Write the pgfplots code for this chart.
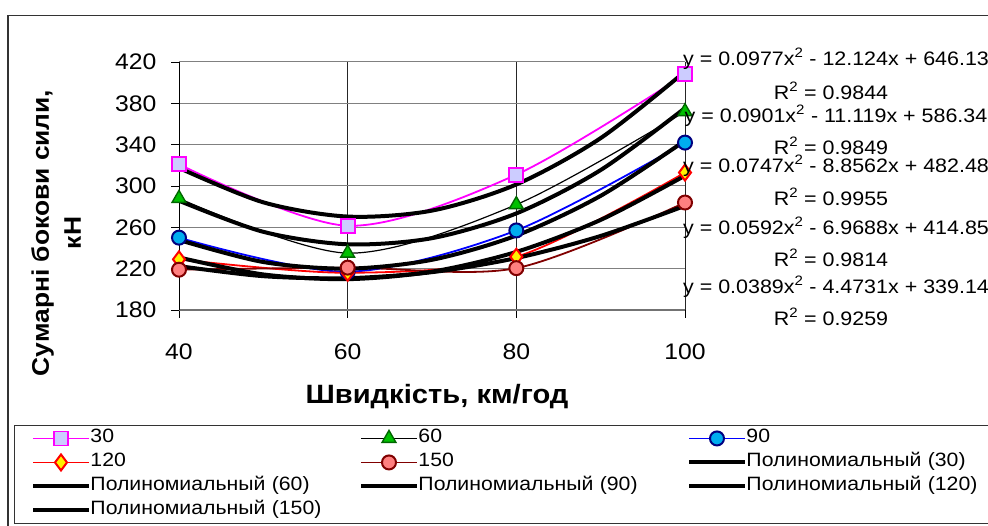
\documentclass[border=0pt]{standalone}
\usepackage{fontspec}
\setmainfont{Liberation Sans}[FakeStretch=1.1]
\usepackage{pgfplots}
\pgfplotsset{compat=1.18}
\definecolor{lav}{HTML}{CCCCFF}
\definecolor{mag}{HTML}{FF00FF}
\definecolor{grn}{HTML}{00C000}
\definecolor{dgrn}{HTML}{006600}
\definecolor{nvy}{HTML}{000080}
\definecolor{salm}{HTML}{FF8080}
\definecolor{dred}{HTML}{800000}
\begin{document}
\begin{tikzpicture}
\useasboundingbox (0pt,0pt) rectangle (988pt,526pt);
\draw[line width=1.3pt, black!80] (8pt,-30pt) rectangle (1020pt,510.5pt);
\begin{axis}[
    at={(179pt,216pt)}, anchor=south west,
    scale only axis, width=506pt, height=248pt,
    xmin=40, xmax=100, ymin=180, ymax=420,
    xtick={40,60,80,100}, ytick={180,220,...,420},
    axis x line*=bottom, axis y line*=left,
    axis line style={-},
    x axis line style={black!55, line width=1.6pt},
    y axis line style={black, line width=0.9pt},
    tick align=outside, major tick length=8pt,
    tick style={black, line width=0.8pt},
    ymajorgrids, xmajorgrids,
    y grid style={black!50, line width=1pt},
    x grid style={black!85, line width=0.7pt},
    /pgf/number format/assume math mode=true,
    tick label style={font=\fontsize{22.5}{22.5}\selectfont},
    xticklabel style={yshift=-22pt},
    yticklabel style={xshift=-11pt},
    legend columns=3,
    legend cell align=left,
    legend style={
        at={(-0.326,-0.4637)}, anchor=north west,
        draw=black!80, line width=0.9pt,
        inner xsep=17pt, inner ysep=1pt,
        font=\fontsize{19.3}{19.3}\selectfont,
        nodes={inner xsep=0pt, inner ysep=3.5pt, text height=13pt, text depth=4pt, text width=261pt},
        /tikz/every odd column/.append style={column sep=0pt},
        /tikz/every even column/.append style={column sep=8pt},
    },
    legend image code/.code={
        \draw[mark repeat=2,mark phase=2] plot coordinates {(0pt,0pt) (27.5pt,0pt) (55pt,0pt)};
    },
]
\addplot[mag, line width=1.8pt, smooth, mark=square*, mark size=7pt,
    mark options={fill=lav, draw=mag, line width=1.8pt}]
    coordinates {(40,321) (60,261.5) (80,311) (100,408)};
\addlegendentry{30}
\addplot[black, line width=1.2pt, smooth, mark=triangle*, mark size=8pt,
    mark options={fill=grn, draw=dgrn, line width=1.4pt}]
    coordinates {(40,288) (60,235) (80,282) (100,372)};
\addlegendentry{60}
\addplot[blue, line width=1.8pt, smooth, mark=*, mark size=7pt,
    mark options={fill=cyan, draw=nvy, line width=2pt}]
    coordinates {(40,250) (60,217) (80,257) (100,342)};
\addlegendentry{90}
\addplot[red, line width=1.8pt, smooth, mark=diamond*, mark size=8pt,
    mark options={fill=yellow, draw=red, line width=2pt}]
    coordinates {(40,229) (60,216) (80,231.5) (100,313)};
\addlegendentry{120}
\addplot[dred, line width=1.8pt, smooth, mark=*, mark size=7pt,
    mark options={fill=salm, draw=dred, line width=2pt}]
    coordinates {(40,219) (60,221) (80,220.5) (100,284)};
\addlegendentry{150}
% polynomial trendlines, read from the printed equations
\addplot[black, line width=4pt, smooth] coordinates {
    (40,317.49) (50,284.18) (60,270.41) (70,276.18) (80,301.49) (90,346.34) (100,410.73)};
\addlegendentry{Полиномиальный (30)}
\addplot[black, line width=4pt, smooth] coordinates {
    (40,285.74) (50,255.64) (60,243.56) (70,249.50) (80,273.46) (90,315.44) (100,375.44)};
\addlegendentry{Полиномиальный (60)}
\addplot[black, line width=4pt, smooth] coordinates {
    (40,247.75) (50,226.42) (60,220.03) (70,228.58) (80,252.06) (90,290.49) (100,343.86)};
\addlegendentry{Полиномиальный (90)}
\addplot[black, line width=4pt, smooth] coordinates {
    (40,230.82) (50,214.41) (60,209.84) (70,217.11) (80,236.23) (90,267.18) (100,309.97)};
\addlegendentry{Полиномиальный (120)}
\addplot[black, line width=4pt, smooth] coordinates {
    (40,222.46) (50,212.73) (60,210.79) (70,216.63) (80,230.25) (90,251.65) (100,280.83)};
\addlegendentry{Полиномиальный (150)}
\end{axis}
% axis titles
\node[font=\fontsize{26.5}{26.5}\selectfont\bfseries, anchor=center] at (437pt,129pt) {Швидкість, км/год};
\node[font=\fontsize{24}{32}\selectfont\bfseries, rotate=90, align=center, anchor=center] at (56pt,293pt) {Сумарні бокови сили,\\кН};
% trendline equations
\begin{scope}[every node/.style={font=\fontsize{19.5}{19.5}\selectfont, anchor=center, inner sep=0pt}]
\node at (836pt,467pt) {y = 0.0977x\textsuperscript{2} - 12.124x + 646.13};
\node at (831pt,435pt) {R\textsuperscript{2} = 0.9844};
\node at (836pt,410pt) {y = 0.0901x\textsuperscript{2} - 11.119x + 586.34};
\node at (831pt,380pt) {R\textsuperscript{2} = 0.9849};
\node at (836pt,360pt) {y = 0.0747x\textsuperscript{2} - 8.8562x + 482.48};
\node at (831pt,329pt) {R\textsuperscript{2} = 0.9955};
\node at (836pt,298pt) {y = 0.0592x\textsuperscript{2} - 6.9688x + 414.85};
\node at (831pt,268pt) {R\textsuperscript{2} = 0.9814};
\node at (836pt,239pt) {y = 0.0389x\textsuperscript{2} - 4.4731x + 339.14};
\node at (831pt,209pt) {R\textsuperscript{2} = 0.9259};
\end{scope}
\end{tikzpicture}
\end{document}
